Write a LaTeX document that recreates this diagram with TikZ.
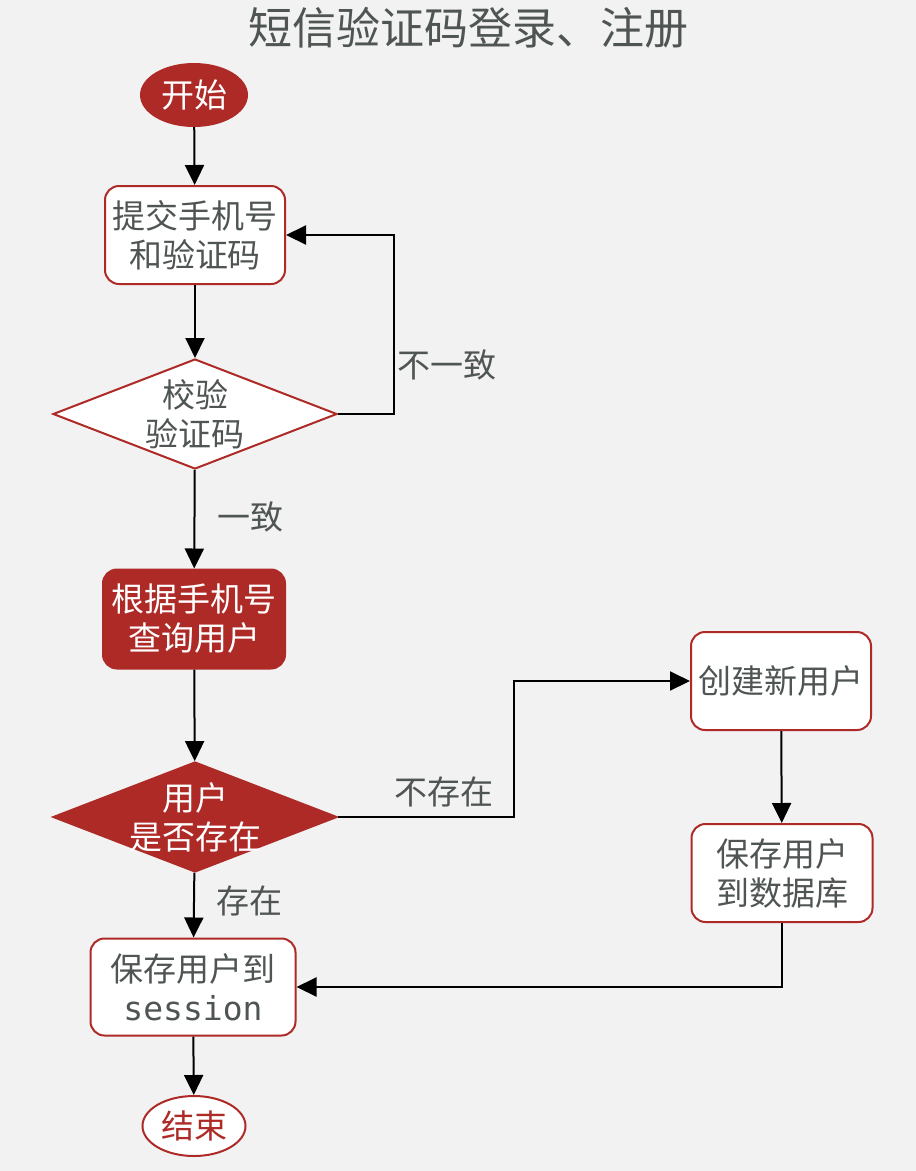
\documentclass[tikz,border=0pt]{standalone}
\usepackage{fontspec}
\setmainfont{Noto Sans CJK SC}
\setmonofont{DejaVu Sans Mono}
\usetikzlibrary{shapes.geometric,arrows.meta}
\definecolor{rojo}{HTML}{AD2A26}
\definecolor{gris}{HTML}{4F5553}
\definecolor{fondo}{HTML}{F2F2F2}
\tikzset{
  texto/.style={font=\fontsize{33pt}{39pt}\selectfont, text=gris},
  caja/.style={texto, draw=rojo, line width=2pt, fill=white, rounded corners=14pt,
    minimum width=180pt, minimum height=98pt, align=center, inner sep=0pt},
  cajaroja/.style={caja, fill=rojo, text=white},
  terminal/.style={texto, ellipse, draw=rojo, line width=2pt, inner sep=0pt},
  decision/.style={diamond, draw=rojo, line width=2pt, fill=white,
    minimum width=284pt, minimum height=110pt, inner sep=0pt},
  flecha/.style={line width=2pt, -{Triangle[length=20pt,width=19pt]}}
}
\begin{document}
\begin{tikzpicture}[x=1pt,y=-1pt]
          \useasboundingbox (0,0) rectangle (916,1171);
          \fill[fondo] (0,0) rectangle (916,1171);
          % Titulo
          \node[texto, font=\fontsize{44pt}{50pt}\selectfont] (titulo) at (468,28) {短信验证码登录、注册};

          % Nodos del flujo
          \node[terminal, fill=rojo, text=white, minimum width=106pt, minimum height=62pt] (inicio) at (194,95) {开始};
          \node[caja] (enviar) at (195,235) {提交手机号\\和验证码};
          \node[decision, label={[texto, align=center]center:校验\\验证码}] (verificar) at (195,414) {};
          \node[cajaroja, minimum width=182pt, minimum height=99pt] (consultar) at (194,619) {根据手机号\\查询用户};
          \node[decision, fill=rojo, label={[texto, text=white, align=center]center:用户\\是否存在}] (existe) at (195,817) {};
          \node[caja] (crear) at (781,681) {创建新用户};
          \node[caja, minimum width=181pt] (guardarbd) at (782,873) {保存用户\\到数据库};
          \node[caja, minimum width=205pt, minimum height=97pt] (sesion) at (193,987) {保存用户到\\{\ttfamily session}};
          \node[terminal, fill=white, text=rojo, minimum width=103pt, minimum height=60pt] (fin) at (194,1126) {结束};

          % Flechas
          \draw[flecha] (inicio) -- (enviar);
          \draw[flecha] (enviar) -- (verificar);
          \draw[flecha] (verificar.east) -- ++(56,0) |- (enviar.east);
          \node[texto] (noconsistente) at (447,365) {不一致};
          \draw[flecha] (verificar) -- (consultar);
          \node[texto] (consistente) at (250,517) {一致};
          \draw[flecha] (consultar) -- (existe);
          \draw[flecha] (existe.east) -- ++(176,0) |- (crear.west);
          \node[texto] (noexiste) at (444,792) {不存在};
          \draw[flecha] (crear) -- (guardarbd);
          \draw[flecha] (existe) -- (sesion);
          \node[texto] (siexiste) at (249,901) {存在};
          \draw[flecha] (guardarbd.south) |- (sesion.east);
          \draw[flecha] (sesion) -- (fin);
        \end{tikzpicture}
\end{document}
